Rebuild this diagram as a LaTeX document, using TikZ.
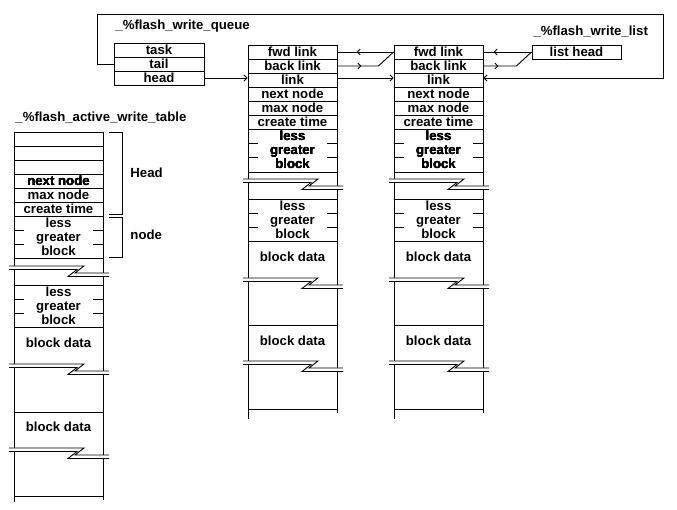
\documentclass[tikz,border=0pt]{standalone}
\usepackage{fontspec}
\setmainfont{Liberation Sans}
\usetikzlibrary{arrows.meta,decorations.markings}

\newcommand{\lblfont}{\fontsize{13.2}{13.8}\selectfont\bfseries}
% break symbol: #1 = left x of the column, #2 = top y
\newcommand{\zbreak}[2]{%
  \fill[white] (#1-5,#2) -- (#1+70,#2) -- (#1+61,#2+7) -- (#1+95,#2+7)
    -- (#1+95,#2+10.5) -- (#1+54,#2+10.5) -- (#1+63,#2+3.5) -- (#1-5,#2+3.5) -- cycle;
  \draw (#1-5,#2) -- (#1+70,#2) -- (#1+61,#2+7) -- (#1+95,#2+7);
  \draw (#1-5,#2+3.5) -- (#1+63,#2+3.5) -- (#1+54,#2+10.5) -- (#1+95,#2+10.5);}
% short marks on both sides of a cell
\newcommand{\sidemarks}[2]{%
  \draw (#1,#2) -- (#1+10,#2) (#1+79,#2) -- (#1+89,#2);}

\tikzset{
  cellbox/.style={draw, minimum width=89pt, minimum height=14pt, inner sep=0pt, font=\lblfont},
  lbl/.style={inner sep=0pt, font=\lblfont, align=center},
  tip/.style={-{Straight Barb[length=3pt,width=6pt]}},
  midtip/.style={postaction={decorate}, decoration={markings,
      mark=at position #1 with {\arrow{Straight Barb[length=3pt,width=6pt]}}}},
}

\begin{document}
\begin{tikzpicture}[x=1pt,y=-1pt,line width=0.9pt]
\useasboundingbox (0,0) rectangle (677,510);

% write queue
\node[lbl,anchor=west] (queue-title) at (115,26) {\_\%flash\_write\_queue};
\node[cellbox,minimum width=90pt] (q-task) at (159,50) {task};
\node[cellbox,minimum width=90pt] (q-tail) at (159,64) {tail};
\node[cellbox,minimum width=90pt] (q-head) at (159,78) {head};

% write list
\node[lbl,anchor=west] (list-title) at (533,32) {\_\%flash\_write\_list};
\node[cellbox] (lh) at (576.5,52) {list head};

% the two nodes
\foreach \c/\xl in {a/248, b/394}{%
  \foreach \r/\t/\y in {fwd/fwd link/52, back/back link/66, link/link/80,
      next/next node/94, max/max node/108, create/create time/122}
    \node[cellbox] (\c-\r) at (\xl+44.5,\y) {\t};
  \draw (\xl,45) -- (\xl,419) (\xl+89,45) -- (\xl+89,413);
  \foreach \y in {172,199,241,325,409}
    \draw (\xl,\y) -- (\xl+89,\y);
  \foreach \y in {143,157,213,227}
    \sidemarks{\xl}{\y}
  \node[lbl] (\c-lgb1) at (\xl+44.5,150) {less\\greater\\block};
  \node[lbl] (\c-lgb2) at (\xl+44.5,220) {less\\greater\\block};
  \node[lbl] (\c-data1) at (\xl+44.5,257) {block data};
  \node[lbl] (\c-data2) at (\xl+44.5,341) {block data};
  \zbreak{\xl}{179}
  \zbreak{\xl}{278}
  \zbreak{\xl}{361}
}

% active write table
\node[lbl,anchor=west] (table-title) at (15,118) {\_\%flash\_active\_write\_table};
\draw (14,132) -- (14,502) (103,132) -- (103,500);
\foreach \y in {132,146,160,174,188,202,216,258,285,327,412,496}
  \draw (14,\y) -- (103,\y);
\foreach \y in {230,244,299,313}
  \sidemarks{14}{\y}
\node[lbl] (t-next) at (58.5,181) {next node};
\node[lbl] (t-max) at (58.5,195) {max node};
\node[lbl] (t-create) at (58.5,209) {create time};
\node[lbl] (t-lgb1) at (58.5,237) {less\\greater\\block};
\node[lbl] (t-lgb2) at (58.5,306) {less\\greater\\block};
\node[lbl] (t-data1) at (58.5,343) {block data};
\node[lbl] (t-data2) at (58.5,427) {block data};
\zbreak{14}{266}
\zbreak{14}{364}
\zbreak{14}{448}

% brackets
\draw (109,132) -- (122,132) -- (122,214) -- (109,214);
\draw (109,217) -- (122,217) -- (122,257) -- (109,257);
\node[lbl,anchor=west] (head-lbl) at (130,173) {Head};
\node[lbl,anchor=west] (node-lbl) at (130,235) {node};

% links
\draw[tip] (q-tail.west) -| (97,14) -| (663,78) -- (q-head.east -| b-link.east);
\draw[tip] (q-head.east) -- (q-head.east -| a-link.west);
\draw[tip] (q-head.east -| a-link.east) -- (q-head.east -| b-link.west);
\draw[midtip=37pt] (b-fwd.west) -- (a-fwd.east);
\draw[midtip=24pt] (a-back.east) -- ++(41,0) -- (b-fwd.west);
\draw[midtip=38pt] (lh.west) -- (b-fwd.east);
\draw[midtip=15pt] (b-back.east) -- ++(33,0) -- (lh.west);
\end{tikzpicture}
\end{document}
